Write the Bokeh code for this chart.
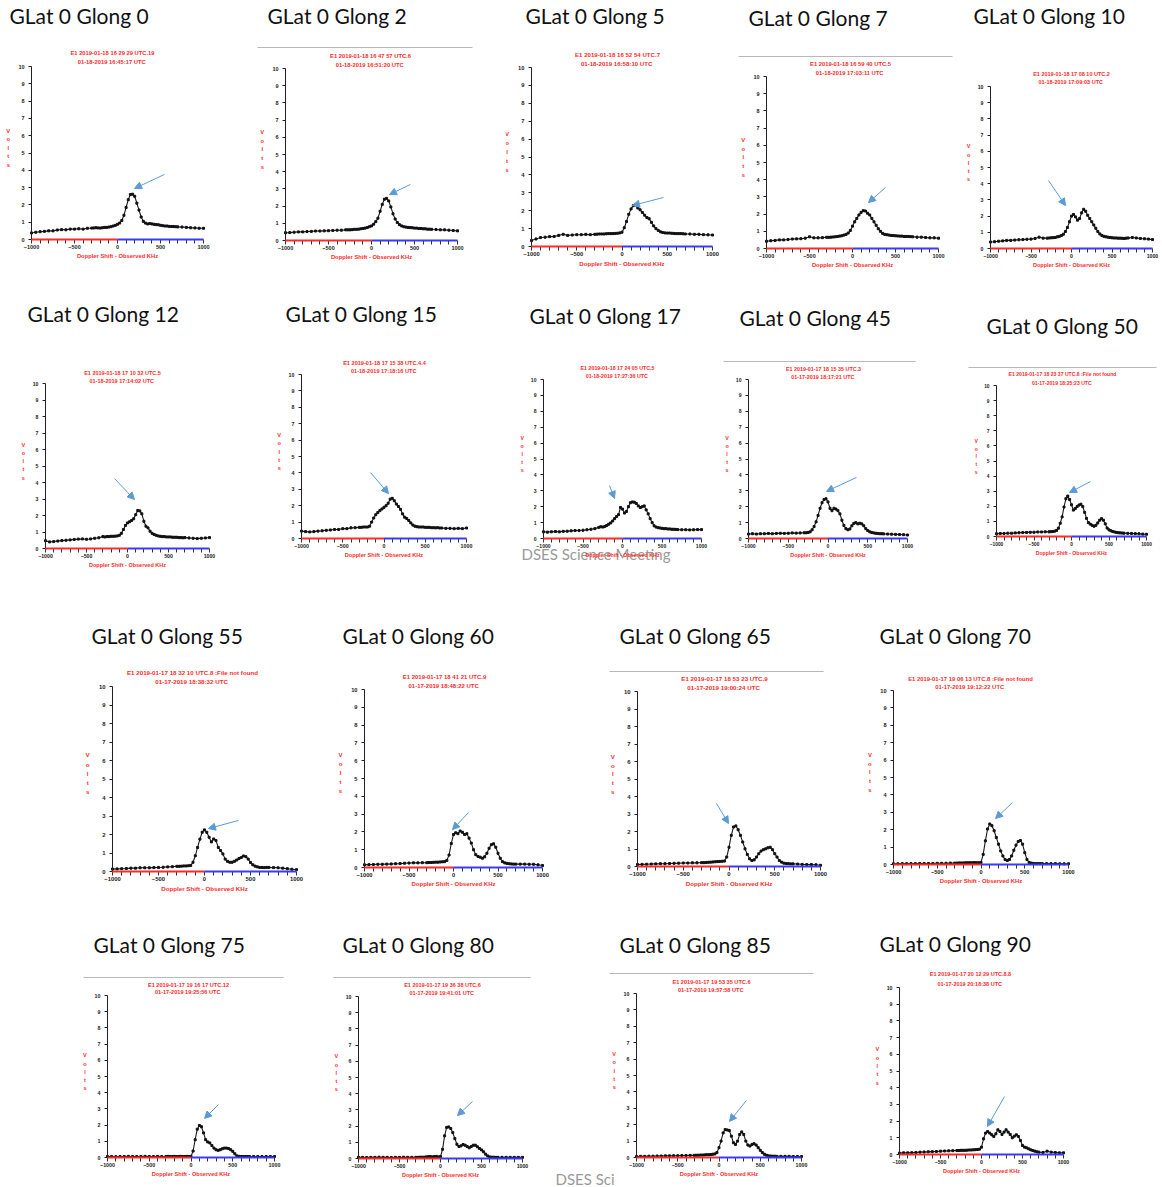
from bokeh.plotting import figure
from bokeh.models import (Range1d, FixedTicker, Label, Arrow, NormalHead, ColumnDataSource,
                          LinearAxis)
from bokeh.layouts import row, column
from bokeh.embed import file_html
from bokeh.resources import INLINE

# ---------------- DATA ----------------
freq_khz = [-1000, -950, -900, -850, -800, -750, -700, -650, -600, -550, -500, -450, -400, -350,
            -300, -275, -250, -225, -200, -175, -150, -125, -100, -75, -50, -25,
            0, 25, 50, 75, 100, 125, 150, 175, 200, 225, 250, 275, 300, 325, 350, 375,
            400, 425, 450, 475, 500, 525, 550, 575, 600, 625, 650, 675, 700,
            750, 800, 850, 900, 950, 1000]

glong = [0, 2, 5, 7, 10, 12, 15, 17, 45, 50, 55, 60, 65, 70, 75, 80, 85, 90]

header_line1 = [
    "E1 2019-01-18 16 29 29 UTC.19", "E1 2019-01-18 16 47 57 UTC.6", "E1 2019-01-18 16 52 54 UTC.7",
    "E1 2019-01-18 16 59 40 UTC.5", "E1 2019-01-18 17 08 10 UTC.2", "E1 2019-01-18 17 10 32 UTC.5",
    "E1 2019-01-18 17 15 38 UTC.4.4", "E1 2019-01-18 17 24 05 UTC.5", "E1 2019-01-17 18 15 35 UTC.3",
    "E1 2019-01-17 18 23 37 UTC.8 :File not found", "E1 2019-01-17 18 32 10 UTC.8 :File not found",
    "E1 2019-01-17 18 41 21 UTC.9", "E1 2019-01-17 18 53 23 UTC.9",
    "E1 2019-01-17 19 06 13 UTC.8 :File not found", "E1 2019-01-17 19 16 17 UTC.12",
    "E1 2019-01-17 19 36 38 UTC.6", "E1 2019-01-17 19 53 35 UTC.6", "E1 2019-01-17 20 12 29 UTC.8.8"]
header_line2 = [
    "01-18-2019  16:45:17 UTC", "01-18-2019  16:51:20 UTC", "01-18-2019  16:58:10 UTC",
    "01-18-2019  17:03:11 UTC", "01-18-2019  17:09:03 UTC", "01-18-2019  17:14:02 UTC",
    "01-18-2019  17:18:16 UTC", "01-18-2019  17:27:36 UTC", "01-17-2019  18:17:21 UTC",
    "01-17-2019  18:25:23 UTC", "01-17-2019  18:38:32 UTC", "01-17-2019  18:48:22 UTC",
    "01-17-2019  19:00:24 UTC", "01-17-2019  19:12:22 UTC", "01-17-2019  19:25:56 UTC",
    "01-17-2019  19:41:01 UTC", "01-17-2019  19:57:58 UTC", "01-17-2019  20:18:38 UTC"]

volts_g0 = [0.38, 0.42, 0.45, 0.47, 0.50, 0.50, 0.55, 0.57, 0.56, 0.60, 0.60, 0.62, 0.60, 0.65,
            0.66, 0.67, 0.68, 0.67, 0.66, 0.68, 0.70, 0.70, 0.72, 0.74, 0.78, 0.82,
            0.88, 0.95, 1.10, 1.40, 1.85, 2.30, 2.60, 2.62, 2.50, 2.10, 1.70, 1.30, 1.05, 0.95, 0.90, 0.92,
            0.90, 0.88, 0.86, 0.85, 0.82, 0.80, 0.78, 0.78, 0.76, 0.75, 0.75, 0.74, 0.73,
            0.72, 0.70, 0.68, 0.67, 0.65, 0.65]
volts_g2 = [0.45, 0.46, 0.48, 0.50, 0.50, 0.52, 0.53, 0.55, 0.55, 0.56, 0.57, 0.58, 0.60, 0.60,
            0.62, 0.62, 0.62, 0.63, 0.65, 0.65, 0.66, 0.68, 0.70, 0.72, 0.75, 0.80,
            0.85, 0.95, 1.10, 1.30, 1.70, 2.10, 2.40, 2.45, 2.30, 1.95, 1.55, 1.25, 1.05, 0.92, 0.85, 0.80,
            0.78, 0.76, 0.75, 0.74, 0.72, 0.72, 0.70, 0.70, 0.68, 0.68, 0.66, 0.66, 0.65,
            0.64, 0.62, 0.62, 0.60, 0.58, 0.56]
volts_g5 = [0.33, 0.42, 0.50, 0.52, 0.55, 0.56, 0.62, 0.68, 0.62, 0.64, 0.66, 0.66, 0.68, 0.66,
            0.68, 0.69, 0.70, 0.70, 0.70, 0.71, 0.72, 0.72, 0.72, 0.73, 0.74, 0.76,
            0.80, 1.05, 1.40, 1.80, 2.10, 2.28, 2.32, 2.15, 2.05, 1.90, 1.75, 1.62, 1.55, 1.35, 1.15, 1.00,
            0.90, 0.82, 0.78, 0.76, 0.75, 0.75, 0.74, 0.73, 0.72, 0.72, 0.72, 0.71, 0.70,
            0.70, 0.68, 0.68, 0.66, 0.65, 0.64]
volts_g7 = [0.42, 0.45, 0.47, 0.50, 0.50, 0.52, 0.55, 0.56, 0.57, 0.60, 0.68, 0.62, 0.62, 0.63,
            0.65, 0.65, 0.66, 0.67, 0.68, 0.70, 0.72, 0.74, 0.78, 0.82, 0.90, 1.05,
            1.30, 1.55, 1.75, 1.95, 2.10, 2.20, 2.18, 2.05, 1.95, 1.75, 1.55, 1.35, 1.15, 1.00, 0.88, 0.82,
            0.80, 0.78, 0.76, 0.75, 0.74, 0.73, 0.72, 0.72, 0.70, 0.70, 0.70, 0.69, 0.68,
            0.66, 0.66, 0.64, 0.62, 0.62, 0.60]
volts_g10 = [0.40, 0.42, 0.45, 0.47, 0.50, 0.50, 0.52, 0.54, 0.55, 0.57, 0.58, 0.62, 0.70, 0.64,
             0.64, 0.65, 0.66, 0.67, 0.68, 0.72, 0.75, 0.80, 0.88, 1.05, 1.30, 1.65,
             2.00, 2.10, 1.95, 1.75, 1.85, 2.20, 2.42, 2.30, 2.05, 1.85, 1.65, 1.45, 1.25, 1.05, 0.90, 0.80,
             0.75, 0.72, 0.70, 0.68, 0.66, 0.65, 0.65, 0.64, 0.64, 0.63, 0.62, 0.64, 0.65,
             0.68, 0.65, 0.62, 0.60, 0.58, 0.55]
volts_g12 = [0.47, 0.40, 0.42, 0.45, 0.48, 0.50, 0.52, 0.55, 0.57, 0.58, 0.56, 0.58, 0.62, 0.65,
             0.72, 0.70, 0.72, 0.72, 0.74, 0.74, 0.75, 0.76, 0.80, 0.92, 1.15, 1.40,
             1.55, 1.62, 1.70, 1.80, 2.05, 2.30, 2.28, 2.10, 1.65, 1.35, 1.25, 1.05, 0.92, 0.85, 0.80, 0.76,
             0.74, 0.72, 0.72, 0.70, 0.70, 0.70, 0.68, 0.68, 0.68, 0.66, 0.66, 0.65, 0.66,
             0.64, 0.62, 0.60, 0.62, 0.64, 0.66]
volts_g15 = [0.45, 0.42, 0.40, 0.42, 0.45, 0.47, 0.50, 0.52, 0.55, 0.55, 0.60, 0.60, 0.65, 0.66,
             0.68, 0.68, 0.70, 0.70, 0.70, 0.75, 1.00, 1.25, 1.45, 1.58, 1.70, 1.80,
             1.90, 2.00, 2.15, 2.40, 2.45, 2.30, 2.10, 1.95, 1.78, 1.50, 1.30, 1.22, 1.10, 0.95, 0.82, 0.75,
             0.72, 0.70, 0.70, 0.70, 0.68, 0.68, 0.68, 0.66, 0.66, 0.65, 0.66, 0.64, 0.64,
             0.62, 0.62, 0.60, 0.62, 0.60, 0.64]
volts_g17 = [0.42, 0.40, 0.42, 0.44, 0.42, 0.45, 0.46, 0.48, 0.50, 0.50, 0.52, 0.55, 0.58, 0.62,
             0.70, 0.74, 0.72, 0.75, 0.82, 0.90, 0.98, 1.10, 1.25, 1.38, 1.50, 1.95,
             1.85, 1.60, 1.70, 2.00, 2.25, 2.30, 2.28, 2.20, 2.05, 1.95, 2.00, 2.05, 1.80, 1.55, 1.25, 1.00,
             0.80, 0.72, 0.68, 0.66, 0.64, 0.62, 0.62, 0.60, 0.60, 0.58, 0.58, 0.57, 0.56,
             0.55, 0.55, 0.54, 0.55, 0.56, 0.56]
volts_g45 = [0.28, 0.30, 0.28, 0.30, 0.30, 0.32, 0.30, 0.32, 0.33, 0.32, 0.33, 0.35, 0.34, 0.35,
             0.36, 0.36, 0.38, 0.42, 0.55, 0.75, 1.05, 1.45, 1.90, 2.25, 2.45, 2.50,
             2.30, 1.90, 1.75, 1.90, 1.85, 1.75, 1.55, 1.15, 0.82, 0.62, 0.55, 0.60, 0.80, 0.95, 1.00, 0.92,
             0.96, 0.92, 0.80, 0.62, 0.50, 0.42, 0.38, 0.35, 0.33, 0.32, 0.30, 0.30, 0.29,
             0.28, 0.27, 0.26, 0.25, 0.24, 0.22]
volts_g50 = [0.18, 0.20, 0.20, 0.22, 0.22, 0.24, 0.25, 0.26, 0.27, 0.28, 0.28, 0.30, 0.30, 0.31,
             0.31, 0.32, 0.33, 0.35, 0.40, 0.55, 0.88, 1.30, 1.95, 2.50, 2.68, 2.45,
             2.10, 1.75, 1.85, 1.98, 2.08, 2.14, 1.98, 1.60, 1.20, 0.92, 0.82, 0.74, 0.68, 0.74, 0.90, 1.08,
             1.18, 1.08, 0.84, 0.56, 0.44, 0.38, 0.33, 0.30, 0.27, 0.25, 0.24, 0.23, 0.22,
             0.21, 0.20, 0.19, 0.18, 0.16, 0.15]
volts_g55 = [0.13, 0.14, 0.15, 0.16, 0.18, 0.18, 0.20, 0.20, 0.20, 0.21, 0.22, 0.23, 0.25, 0.26,
             0.28, 0.28, 0.29, 0.30, 0.30, 0.31, 0.33, 0.50, 0.85, 1.30, 1.75, 2.12,
             2.25, 2.12, 1.85, 1.60, 1.76, 1.67, 1.30, 1.13, 0.95, 0.67, 0.55, 0.50, 0.50, 0.55, 0.62, 0.70,
             0.76, 0.84, 0.80, 0.67, 0.49, 0.36, 0.29, 0.25, 0.22, 0.22, 0.21, 0.22, 0.22,
             0.21, 0.20, 0.18, 0.15, 0.12, 0.10]
volts_g60 = [0.15, 0.16, 0.17, 0.18, 0.18, 0.19, 0.20, 0.21, 0.22, 0.24, 0.25, 0.26, 0.26, 0.27,
             0.27, 0.28, 0.28, 0.29, 0.30, 0.30, 0.31, 0.32, 0.33, 0.40, 0.70, 1.35,
             1.85, 1.95, 1.90, 2.05, 1.98, 1.85, 1.90, 1.65, 1.37, 1.00, 0.72, 0.62, 0.58, 0.52, 0.60, 0.80,
             1.08, 1.28, 1.33, 1.14, 0.80, 0.52, 0.33, 0.26, 0.23, 0.21, 0.20, 0.19, 0.19,
             0.19, 0.19, 0.18, 0.18, 0.15, 0.11]
volts_g65 = [0.11, 0.12, 0.13, 0.14, 0.15, 0.16, 0.16, 0.17, 0.18, 0.19, 0.20, 0.20, 0.21, 0.21,
             0.22, 0.22, 0.23, 0.24, 0.25, 0.26, 0.27, 0.28, 0.29, 0.30, 0.31, 0.54,
             1.10, 1.78, 2.26, 2.32, 2.10, 1.78, 1.40, 1.01, 0.69, 0.44, 0.34, 0.38, 0.54, 0.73, 0.88, 0.96,
             1.01, 1.07, 1.10, 0.96, 0.73, 0.54, 0.34, 0.25, 0.19, 0.17, 0.16, 0.15, 0.15,
             0.14, 0.12, 0.11, 0.11, 0.10, 0.07]
volts_g70 = [0.04, 0.04, 0.05, 0.05, 0.05, 0.05, 0.06, 0.06, 0.06, 0.06, 0.07, 0.07, 0.07, 0.08,
             0.08, 0.08, 0.09, 0.09, 0.09, 0.10, 0.10, 0.10, 0.10, 0.11, 0.10, 0.10,
             0.12, 0.58, 1.36, 2.04, 2.33, 2.23, 1.94, 1.55, 1.17, 0.78, 0.49, 0.29, 0.23, 0.29, 0.49, 0.82,
             1.11, 1.32, 1.38, 1.17, 0.68, 0.29, 0.12, 0.08, 0.06, 0.05, 0.05, 0.05, 0.05,
             0.05, 0.05, 0.05, 0.04, 0.04, 0.04]
volts_g75 = [0.06, 0.06, 0.05, 0.06, 0.06, 0.07, 0.06, 0.06, 0.06, 0.07, 0.06, 0.06, 0.07, 0.06,
             0.06, 0.07, 0.06, 0.06, 0.07, 0.06, 0.06, 0.07, 0.06, 0.06, 0.07, 0.06,
             0.07, 0.40, 1.10, 1.75, 1.98, 1.90, 1.52, 1.10, 0.96, 0.90, 0.74, 0.58, 0.48, 0.44, 0.48, 0.54,
             0.58, 0.58, 0.55, 0.48, 0.38, 0.23, 0.10, 0.07, 0.06, 0.06, 0.06, 0.06, 0.06,
             0.06, 0.06, 0.06, 0.06, 0.06, 0.06]
volts_g80 = [0.07, 0.07, 0.06, 0.07, 0.07, 0.08, 0.07, 0.07, 0.06, 0.07, 0.07, 0.08, 0.07, 0.07,
             0.07, 0.07, 0.08, 0.08, 0.08, 0.10, 0.11, 0.12, 0.10, 0.12, 0.13, 0.10,
             0.12, 0.57, 1.40, 1.92, 1.95, 1.85, 1.60, 1.23, 0.88, 0.74, 0.78, 0.86, 0.82, 0.74, 0.66, 0.74,
             0.82, 0.82, 0.72, 0.62, 0.53, 0.41, 0.27, 0.16, 0.10, 0.08, 0.08, 0.07, 0.07,
             0.07, 0.07, 0.07, 0.07, 0.07, 0.07]
volts_g85 = [0.06, 0.07, 0.07, 0.08, 0.08, 0.09, 0.09, 0.10, 0.10, 0.11, 0.11, 0.12, 0.12, 0.13,
             0.13, 0.14, 0.14, 0.15, 0.15, 0.16, 0.17, 0.17, 0.18, 0.20, 0.22, 0.30,
             0.60, 1.00, 1.50, 1.70, 1.68, 1.64, 1.30, 0.90, 0.80, 1.00, 1.40, 1.56, 1.40, 1.00, 0.76, 0.70,
             0.80, 0.84, 0.76, 0.60, 0.44, 0.30, 0.20, 0.14, 0.10, 0.09, 0.08, 0.08, 0.07,
             0.07, 0.07, 0.07, 0.06, 0.06, 0.06]
volts_g90 = [0.08, 0.10, 0.10, 0.11, 0.12, 0.14, 0.15, 0.16, 0.17, 0.18, 0.20, 0.21, 0.22, 0.23,
             0.24, 0.24, 0.25, 0.25, 0.25, 0.26, 0.27, 0.27, 0.28, 0.29, 0.30, 0.32,
             0.44, 0.94, 1.28, 1.38, 1.28, 1.18, 1.08, 1.24, 1.48, 1.38, 1.20, 1.34, 1.48, 1.34, 1.20, 1.00,
             1.10, 1.18, 1.08, 0.84, 0.54, 0.44, 0.40, 0.34, 0.28, 0.24, 0.20, 0.16, 0.14,
             0.12, 0.20, 0.14, 0.12, 0.10, 0.10]

volts = [volts_g0, volts_g2, volts_g5, volts_g7, volts_g10, volts_g12, volts_g15, volts_g17, volts_g45,
         volts_g50, volts_g55, volts_g60, volts_g65, volts_g70, volts_g75, volts_g80, volts_g85, volts_g90]

# arrows pointing at the peaks: tail (kHz, V) -> tip (kHz, V)
arrow_tail_khz = [546, 453, 459, 384, -284, -159, -164, -165, 358, 253, 370, 169, -137, 360, 329, 390, 333, 280]
arrow_tail_v = [3.76, 3.26, 2.74, 3.55, 4.2, 4.24, 4.02, 3.33, 3.84, 3.64, 2.76, 3.09, 3.6, 3.56, 3.27, 3.52, 3.48, 3.47]
arrow_tip_khz = [198, 209, 116, 186, -74, 85, 55, -101, -19, -27, 43, -11, -5, 166, 162, 207, 127, 73]
arrow_tip_v = [2.95, 2.67, 2.29, 2.67, 2.65, 2.97, 2.74, 2.52, 2.96, 2.91, 2.32, 2.13, 2.46, 2.64, 2.41, 2.65, 2.2, 1.68]

# ---------------- LAYOUT (page pixels) ----------------
# frame L, R, T(=10 V), B(=0 V); title (x, y); header (cx, y1, y2); grey rule (y, x0, x1)
GEOM = [
    ((31, 203, 66, 239), (9, 15), (112, 52, 61), None),
    ((285, 457, 68, 240), (267, 15), (370, 55, 64), (47, 257, 472)),
    ((531, 712, 67, 246), (525, 15), (617, 54, 63), None),
    ((766, 938, 76, 248), (748, 17), (850, 63, 72), (56, 738, 952)),
    ((990, 1152, 86, 248), (973, 15), (1071, 73, 81), None),
    ((45, 209, 383, 548), (27, 313), (122, 372, 380), None),
    ((301, 466, 374, 538), (285, 313), (384, 362, 370), None),
    ((543, 701, 379, 538), (529, 315), (617, 367, 375), None),
    ((748, 907, 379, 538), (739, 317), (823, 368, 376), (361, 723, 915)),
    ((996, 1146, 385, 536), (986, 325), (1062, 373, 382), (367, 968, 1156)),
    ((112, 296, 686, 871), (91, 635), (192, 672, 681), None),
    ((364, 542, 689, 867), (342, 635), (444, 676, 685), None),
    ((637, 820, 691, 866), (619, 635), (724, 678, 687), (671, 609, 823)),
    ((893, 1068, 690, 864), (879, 635), (970, 678, 686), None),
    ((107, 274, 995, 1157), (93, 944), (188, 984, 991), (977, 83, 283)),
    ((358, 522, 996, 1158), (342, 944), (442, 984, 992), (977, 333, 530)),
    ((636, 801, 993, 1157), (619, 944), (711, 981, 989), (973, 609, 813)),
    ((899, 1063, 987, 1154), (879, 943), (970, 973, 983), None),
]

ROWS = [
    (0, 290, [(0, 0, 250), (1, 250, 505), (2, 505, 728), (3, 728, 960), (4, 960, 1162)]),
    (290, 603, [(5, 0, 270), (6, 270, 510), (7, 510, 718), (8, 718, 955), (9, 955, 1162)]),
    (603, 913, [(10, 0, 320), (11, 320, 595), (12, 595, 860), (13, 860, 1162)]),
    (913, 1187, [(14, 0, 320), (15, 320, 545), (16, 545, 860), (17, 860, 1162)]),
]

FOOTERS = {7: ("DSES Science Meeting", 521, 553), 16: ("DSES Sci", 555, 1178)}

RED = "#ff2b2b"
BLUE = "#3a3aff"
ARROW_BLUE = "#5b9bd5"
SMALL_FONT = "Liberation Sans"
TITLE_FONT = "Lato"

for v in volts:
    assert len(v) == len(freq_khz), len(v)


def make_panel(i, cl, cr, rt, rb):
    (L, R, T, B), (tx, ty), (hx, hy1, hy2), gray = GEOM[i]
    fw, fh = R - L, B - T
    kx = 2000.0 / fw          # kHz per pixel
    ky = 10.0 / fh            # volts per pixel

    def dx(px):
        return (px - L) * kx - 1000

    def dy(py):
        return (B - py) * ky

    s = fw / 172.0
    fs = 5.8 * s
    fs_tick = 5.5 * s

    p = figure(width=cr - cl, height=rb - rt, title=None,
               x_range=Range1d(dx(cl), dx(cr)), y_range=Range1d(dy(rb), dy(rt)),
               min_border=0, min_border_left=0, min_border_right=0,
               min_border_top=0, min_border_bottom=0,
               x_axis_type=None, y_axis_type=None,
               toolbar_location=None, output_backend="svg")
    p.outline_line_color = None
    p.background_fill_color = "white"
    p.border_fill_color = "white"

    xa = LinearAxis(fixed_location=0, bounds=(-1000, 1000),
                    ticker=FixedTicker(ticks=[-1000, -500, 0, 500, 1000],
                                       minor_ticks=[t for t in range(-900, 1000, 100) if t % 500 != 0]))
    xa.axis_line_color = None
    xa.major_tick_in = 0
    xa.major_tick_out = 4
    xa.minor_tick_in = 0
    xa.minor_tick_out = 4
    xa.major_tick_line_color = "#333333"
    xa.minor_tick_line_color = "#333333"
    xa.major_label_text_font = SMALL_FONT
    xa.major_label_text_font_style = "bold"
    xa.major_label_text_font_size = f"{fs_tick:.1f}px"
    xa.major_label_text_color = "#222222"
    xa.major_label_standoff = 1
    xa.axis_label = "Doppler Shift - Observed KHz"
    xa.axis_label_text_font = SMALL_FONT
    xa.axis_label_text_font_style = "bold"
    xa.axis_label_text_font_size = f"{fs:.1f}px"
    xa.axis_label_text_color = RED
    xa.axis_label_standoff = 1
    p.add_layout(xa, "below")

    ya = LinearAxis(fixed_location=-1000, bounds=(0, 10),
                    ticker=FixedTicker(ticks=list(range(0, 11)), minor_ticks=[]))
    ya.axis_line_color = "#222222"
    ya.axis_line_width = 1
    ya.major_tick_in = 0
    ya.major_tick_out = 3
    ya.minor_tick_line_color = None
    ya.major_tick_line_color = "#222222"
    ya.major_label_text_font = SMALL_FONT
    ya.major_label_text_font_style = "bold"
    ya.major_label_text_font_size = f"{fs_tick:.1f}px"
    ya.major_label_text_color = "#222222"
    ya.major_label_standoff = 4
    p.add_layout(ya, "left")

    # red / blue base line
    p.add_layout(Arrow(end=None, x_start=-1000, y_start=0, x_end=0, y_end=0,
                       line_color=RED, line_width=2))
    p.add_layout(Arrow(end=None, x_start=0, y_start=0, x_end=1000, y_end=0,
                       line_color=BLUE, line_width=2))

    src = ColumnDataSource(dict(khz=freq_khz, v=volts[i]))
    p.line("khz", "v", source=src, line_color="#1a1a1a", line_width=1.1)
    p.scatter("khz", "v", source=src, size=2.0, marker="square", color="#111111")

    # titles and headers
    p.add_layout(Label(x=dx(tx), y=dy(ty), text=f"GLat 0 Glong {glong[i]}",
                       text_font=TITLE_FONT, text_font_size="21px", text_color="#111111",
                       text_align="left", text_baseline="middle"))
    for txt, yy in ((header_line1[i], hy1), (header_line2[i], hy2)):
        p.add_layout(Label(x=dx(hx), y=dy(yy), text=txt, text_font=SMALL_FONT,
                           text_font_style="bold", text_font_size=f"{fs:.1f}px",
                           text_color=RED, text_align="center", text_baseline="middle"))
    # vertical "Volts"
    xv = dx(L - 0.135 * fw)
    for ch, vy in zip("Volts", [6.3, 5.8, 5.3, 4.8, 4.3]):
        p.add_layout(Label(x=xv, y=vy, text=ch, text_font=SMALL_FONT, text_font_style="bold",
                           text_font_size=f"{fs:.1f}px", text_color=RED,
                           text_align="center", text_baseline="middle"))
    if gray is not None:
        gy, gx0, gx1 = gray
        p.add_layout(Arrow(end=None, x_start=dx(gx0), y_start=dy(gy), x_end=dx(gx1), y_end=dy(gy),
                           line_color="#b8b8b8", line_width=1))
    # blue arrow to the peak
    p.add_layout(Arrow(end=NormalHead(size=7, fill_color=ARROW_BLUE, line_color=ARROW_BLUE),
                       x_start=arrow_tail_khz[i], y_start=arrow_tail_v[i],
                       x_end=arrow_tip_khz[i], y_end=arrow_tip_v[i],
                       line_color=ARROW_BLUE, line_width=1))
    if i in FOOTERS:
        txt, fx, fy = FOOTERS[i]
        p.add_layout(Label(x=dx(fx), y=dy(fy), text=txt, text_font=TITLE_FONT,
                           text_font_size="15px", text_color="#9a9a9a", level="underlay",
                           text_align="left", text_baseline="middle"))
    return p


rows = []
for rt, rb, cells in ROWS:
    figs = [make_panel(i, cl, cr, rt, rb) for i, cl, cr in cells]
    rows.append(row(*figs))

layout = column(*rows)
open("out.html", "w").write(file_html(layout, INLINE))
